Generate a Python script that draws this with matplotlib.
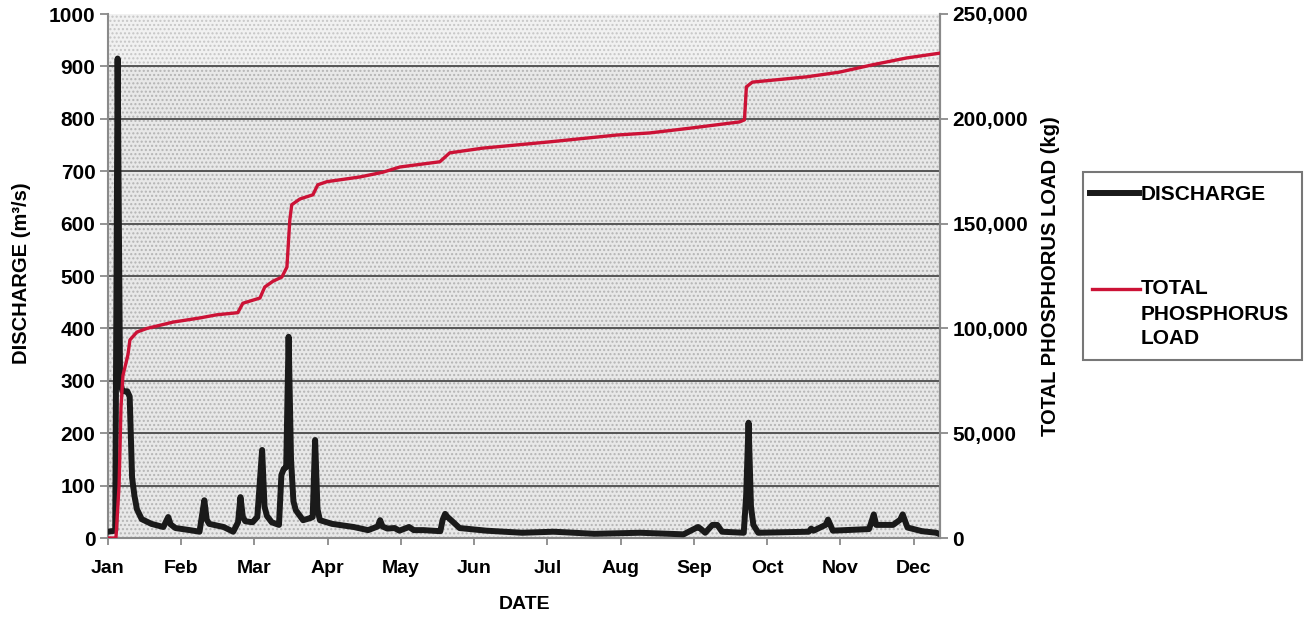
import matplotlib
matplotlib.use("Agg")
import matplotlib.pyplot as plt
from matplotlib.ticker import FuncFormatter, FixedLocator
from matplotlib.lines import Line2D
from matplotlib.patches import Rectangle

# ---- data (day of record, value) ----
q_day = [0, 3, 4, 5, 6, 7, 8, 9, 10, 11, 12, 14, 18, 23, 25, 26, 28, 34, 38, 40, 41, 42,
         48, 52, 54, 55, 56, 57, 60, 62, 64, 65, 66, 68, 71, 72, 73, 74, 75, 76, 77, 78,
         81, 84, 85, 86, 87, 88, 93, 102, 108, 112, 113, 114, 116, 119, 121, 125, 127,
         131, 138, 139, 140, 141, 142, 146, 157, 172, 185, 202, 221, 239, 245, 246, 248,
         251, 253, 255, 264, 265, 266, 267, 268, 270, 291, 292, 293, 298, 299, 301, 316,
         317, 318, 319, 326, 329, 330, 332, 338, 344, 345]
discharge = [12, 14, 915, 300, 280, 280, 280, 270, 115, 80, 55, 36, 27, 21, 40, 26, 19, 15,
             12, 72, 35, 27, 21, 12, 30, 78, 40, 32, 30, 40, 168, 60, 42, 30, 25, 120, 132,
             135, 384, 150, 70, 53, 34, 38, 40, 187, 55, 34, 27, 21, 15, 22, 34, 22, 18, 19,
             14, 21, 15, 15, 13, 35, 46, 40, 36, 19, 14, 10, 12, 8, 10, 7, 21, 18, 10, 25,
             25, 12, 10, 80, 220, 60, 25, 10, 12, 18, 14, 25, 35, 14, 17, 30, 45, 25, 25,
             35, 45, 20, 13, 10, 8]

tp_day = [0, 3.3, 4.6, 5.4, 6.2, 8.3, 9.1, 12.0, 16.2, 27.0, 38.2, 45.2, 53.9, 56.0, 63.1,
          65.1, 68.5, 72.2, 74.3, 75.5, 76.3, 79.7, 85.1, 87.1, 90.9, 104.6, 114.1, 121.2,
          137.8, 141.9, 155.6, 183.4, 211.2, 224.9, 241.5, 262.2, 264.3, 265.1, 267.6,
          290.0, 303.7, 317.4, 331.5, 345.0]
tp_load = [0, 0, 25000, 62500, 77500, 87500, 94500, 98250, 100000, 103000, 105000, 106500,
           107500, 112000, 114500, 119750, 122500, 124500, 129250, 151750, 159000, 161750,
           163750, 168500, 170000, 172250, 174500, 177000, 179500, 183750, 186000, 189000,
           192250, 193250, 195500, 198500, 199500, 215250, 217500, 220000, 222250, 225750,
           229000, 231250]

months = ["Jan", "Feb", "Mar", "Apr", "May", "Jun", "Jul", "Aug", "Sep", "Oct", "Nov", "Dec"]
left_ticks = [0, 100, 200, 300, 400, 500, 600, 700, 800, 900, 1000]
right_ticks = [0, 50000, 100000, 150000, 200000, 250000]

FONT = "Liberation Sans"
plt.rcParams["font.family"] = [FONT, "DejaVu Sans"]
plt.rcParams["font.weight"] = "bold"
plt.rcParams["hatch.linewidth"] = 1.0

W, H = 1305, 620
fig = plt.figure(figsize=(W / 100, H / 100), dpi=100)
ax = fig.add_axes([108 / W, 1 - 538 / H, (940 - 108) / W, (538 - 14) / H])

BLACK = "#1a1a1a"
RED = "#cc1236"
AXC = "#8a8a8a"

# stippled background
ax.set_facecolor("white")
ax.axhspan(0, 900, facecolor="#e8e8e8", edgecolor="#b4b4b4", hatch="....", lw=0, zorder=0)
ax.axhspan(900, 1000, facecolor="#f1f1f1", edgecolor="#c6c6c6", hatch="....", lw=0, zorder=0)

for v in left_ticks[1:-1]:
    ax.axhline(v, color="#555555", lw=1.4, zorder=1)

ax.plot(q_day, discharge, color=BLACK, lw=4.3, solid_joinstyle="round", zorder=3,
        label="DISCHARGE")

ax.set_xlim(0, 345.5)
ax.set_ylim(0, 1000)
ax.set_yticks(left_ticks)
ax.set_yticklabels([str(t) for t in left_ticks])
ax.xaxis.set_major_locator(FixedLocator([i * 365 / 12 for i in range(12)]))
ax.set_xticklabels(months)

ax.spines["top"].set_visible(False)
for s in ["left", "right", "bottom"]:
    ax.spines[s].set_color(AXC)
    ax.spines[s].set_linewidth(1.5)

ax.tick_params(axis="y", direction="out", length=6, width=1.3, color=AXC,
               labelsize=15, pad=3)
ax.tick_params(axis="x", direction="out", length=5, width=1.3, color=AXC,
               labelsize=14, pad=11)

ax2 = ax.twinx()
ax2.plot(tp_day, tp_load, color=RED, lw=2.4, zorder=4, label="TOTAL PHOSPHORUS LOAD")
ax2.set_ylim(0, 250000)
ax2.set_yticks(right_ticks)
ax2.yaxis.set_major_formatter(FuncFormatter(lambda v, p: f"{int(v):,}"))
ax2.tick_params(axis="y", direction="out", length=6, width=1.3, color=AXC,
                labelsize=15, pad=3)
for s in ["top", "left", "bottom"]:
    ax2.spines[s].set_visible(False)
ax2.spines["right"].set_color(AXC)
ax2.spines["right"].set_linewidth(1.5)

for lab in ax.get_xticklabels() + ax.get_yticklabels() + ax2.get_yticklabels():
    lab.set_fontweight("bold")

ax.set_ylabel("DISCHARGE (m³/s)", fontsize=14.5, fontweight="bold")
ax.yaxis.set_label_coords((31 - 108) / 832, (538 - 273) / 524)
ax2.set_ylabel("TOTAL PHOSPHORUS LOAD (kg)", fontsize=14.5, fontweight="bold")
ax2.yaxis.set_label_coords((1041 - 108) / 832, (538 - 276) / 524)
ax.set_xlabel("DATE", fontsize=14, fontweight="bold")
ax.xaxis.set_label_coords((525 - 108) / 832, (538 - 596) / 524)

# ---- legend box (drawn in figure pixel space) ----
def fx(px):
    return px / W

def fy(py):
    return 1 - py / H

fig.patches.append(Rectangle((fx(1083), fy(360)), fx(1302) - fx(1083), fy(172) - fy(360),
                             transform=fig.transFigure, facecolor="white",
                             edgecolor="#777777", lw=1.5, zorder=5))
fig.lines.append(Line2D([fx(1090), fx(1139)], [fy(193), fy(193)], transform=fig.transFigure,
                        color=BLACK, lw=4.3, zorder=6))
fig.lines.append(Line2D([fx(1092), fx(1140)], [fy(289), fy(289)], transform=fig.transFigure,
                        color=RED, lw=2.4, zorder=6))
fig.text(fx(1141), fy(194), "DISCHARGE", fontsize=15, fontweight="bold", va="center",
         ha="left", zorder=7)
for txt, py in [("TOTAL", 289), ("PHOSPHORUS", 314), ("LOAD", 339)]:
    fig.text(fx(1141), fy(py), txt, fontsize=15, fontweight="bold", va="center",
             ha="left", zorder=7)

fig.savefig("out.png", dpi=100, facecolor="white")
